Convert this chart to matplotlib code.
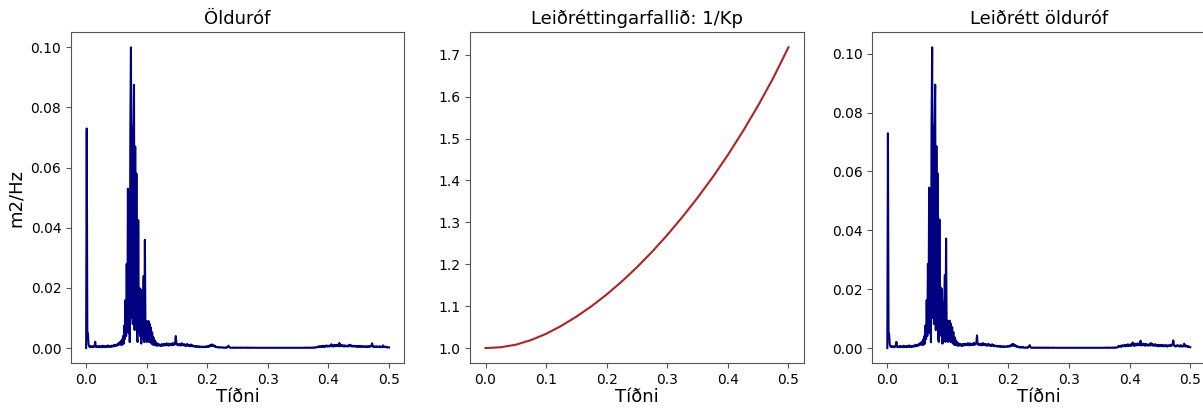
import matplotlib.pyplot as plt
import numpy as np

# Frequency grid (0 to 0.5, step 0.001)
freq = np.linspace(0, 0.5, 501)

# Near-zero band 0.240 - 0.379, same in both spectra
quiet_band = [
    0.0001, 0.0002, 0.0001, 0.0001, 0.0002, 0.0001, 0.0001, 0.0002, 0.0001, 0.0001,
    0.0001, 0.0002, 0.0001, 0.0001, 0.0001, 0.0002, 0.0001, 0.0001, 0.0002, 0.0001,
    0.0001, 0.0001, 0.0002, 0.0001, 0.0001, 0.0001, 0.0001, 0.0002, 0.0001, 0.0001,
    0.0001, 0.0001, 0.0001, 0.0002, 0.0001, 0.0001, 0.0001, 0.0001, 0.0001, 0.0001,
    0.0001, 0.0001, 0.0001, 0.0001, 0.0001, 0.0001, 0.0001, 0.0001, 0.0001, 0.0001,
    0.0001, 0.0001, 0.0001, 0.0001, 0.0001, 0.0001, 0.0001, 0.0001, 0.0001, 0.0001,
    0.0001, 0.0001, 0.0001, 0.0001, 0.0001, 0.0001, 0.0001, 0.0001, 0.0001, 0.0001,
    0.0001, 0.0001, 0.0001, 0.0001, 0.0001, 0.0001, 0.0001, 0.0001, 0.0001, 0.0001,
    0.0001, 0.0001, 0.0001, 0.0001, 0.0001, 0.0001, 0.0001, 0.0001, 0.0001, 0.0001,
    0.0001, 0.0001, 0.0001, 0.0001, 0.0001, 0.0001, 0.0001, 0.0001, 0.0001, 0.0001,
    0.0001, 0.0001, 0.0001, 0.0001, 0.0001, 0.0001, 0.0001, 0.0001, 0.0001, 0.0001,
    0.0001, 0.0001, 0.0001, 0.0001, 0.0001, 0.0001, 0.0001, 0.0001, 0.0001, 0.0001,
    0.0001, 0.0001, 0.0002, 0.0001, 0.0001, 0.0001, 0.0002, 0.0001, 0.0001, 0.0001,
    0.0001, 0.0002, 0.0001, 0.0001, 0.0002, 0.0001, 0.0002, 0.0001, 0.0002, 0.0002,
]

# Wave spectrum (m2/Hz), 0.000 - 0.239
spectrum_low = [
    0.0, 0.073, 0.0055, 0.0048, 0.0012, 0.0006, 0.0004, 0.0007, 0.0003, 0.0005,
    0.0004, 0.0006, 0.0003, 0.0005, 0.0008, 0.0021, 0.0004, 0.0006, 0.0003, 0.0005,
    0.0004, 0.0007, 0.0003, 0.0006, 0.0004, 0.0005, 0.0003, 0.0008, 0.0004, 0.0006,
    0.0005, 0.0003, 0.0007, 0.0004, 0.0006, 0.0005, 0.0009, 0.0004, 0.0006, 0.0005,
    0.0007, 0.0004, 0.0008, 0.0006, 0.0005, 0.0009, 0.0006, 0.0011, 0.0007, 0.0010,
    0.0008, 0.0012, 0.0009, 0.0015, 0.0011, 0.0018, 0.0013, 0.0022, 0.0010, 0.0028,
    0.0012, 0.0040, 0.0015, 0.0075, 0.0030, 0.0160, 0.0040, 0.0280, 0.0060, 0.0530,
    0.0050, 0.0520, 0.0020, 0.0730, 0.1000, 0.0100, 0.0735, 0.0080, 0.0730, 0.0875,
    0.0060, 0.0670, 0.0090, 0.0580, 0.0030, 0.0020, 0.0425, 0.0050, 0.0200, 0.0040,
    0.0195, 0.0015, 0.0150, 0.0030, 0.0155, 0.0240, 0.0020, 0.0360, 0.0030, 0.0090,
    0.0020, 0.0088, 0.0025, 0.0090, 0.0020, 0.0080, 0.0020, 0.0068, 0.0015, 0.0052,
    0.0012, 0.0036, 0.0010, 0.0026, 0.0010, 0.0020, 0.0008, 0.0016, 0.0008, 0.0013,
    0.0009, 0.0012, 0.0008, 0.0011, 0.0007, 0.0013, 0.0009, 0.0012, 0.0008, 0.0014,
    0.0010, 0.0013, 0.0009, 0.0016, 0.0011, 0.0012, 0.0008, 0.0015, 0.0010, 0.0013,
    0.0009, 0.0014, 0.0011, 0.0017, 0.0010, 0.0013, 0.0012, 0.0018, 0.0040, 0.0015,
    0.0011, 0.0013, 0.0009, 0.0012, 0.0010, 0.0014, 0.0008, 0.0011, 0.0016, 0.0010,
    0.0012, 0.0009, 0.0013, 0.0008, 0.0011, 0.0007, 0.0010, 0.0014, 0.0008, 0.0009,
    0.0007, 0.0010, 0.0006, 0.0012, 0.0008, 0.0007, 0.0009, 0.0005, 0.0007, 0.0006,
    0.0005, 0.0007, 0.0004, 0.0006, 0.0005, 0.0004, 0.0006, 0.0003, 0.0005, 0.0004,
    0.0003, 0.0005, 0.0004, 0.0003, 0.0005, 0.0004, 0.0003, 0.0004, 0.0006, 0.0004,
    0.0005, 0.0004, 0.0007, 0.0005, 0.0009, 0.0006, 0.0011, 0.0008, 0.0012, 0.0007,
    0.0009, 0.0006, 0.0008, 0.0004, 0.0005, 0.0003, 0.0004, 0.0003, 0.0002, 0.0003,
    0.0002, 0.0003, 0.0002, 0.0002, 0.0003, 0.0002, 0.0001, 0.0002, 0.0001, 0.0002,
    0.0001, 0.0002, 0.0001, 0.0003, 0.0005, 0.0008, 0.0004, 0.0002, 0.0001, 0.0001,
]
# Wave spectrum (m2/Hz), 0.380 - 0.500
spectrum_high = [
    0.0002, 0.0004, 0.0003, 0.0005, 0.0004, 0.0006, 0.0003, 0.0005, 0.0007, 0.0004,
    0.0006, 0.0005, 0.0008, 0.0004, 0.0007, 0.0005, 0.0006, 0.0009, 0.0005, 0.0007,
    0.0006, 0.0008, 0.0005, 0.0009, 0.0007, 0.0013, 0.0006, 0.0008, 0.0005, 0.0010,
    0.0007, 0.0009, 0.0006, 0.0011, 0.0008, 0.0007, 0.0010, 0.0006, 0.0017, 0.0008,
    0.0006, 0.0009, 0.0007, 0.0010, 0.0006, 0.0008, 0.0005, 0.0009, 0.0007, 0.0006,
    0.0008, 0.0005, 0.0007, 0.0009, 0.0006, 0.0011, 0.0008, 0.0006, 0.0009, 0.0005,
    0.0007, 0.0006, 0.0008, 0.0005, 0.0007, 0.0006, 0.0004, 0.0007, 0.0005, 0.0006,
    0.0004, 0.0006, 0.0005, 0.0007, 0.0004, 0.0006, 0.0005, 0.0004, 0.0006, 0.0005,
    0.0004, 0.0006, 0.0003, 0.0005, 0.0004, 0.0006, 0.0005, 0.0004, 0.0007, 0.0005,
    0.0006, 0.0009, 0.0016, 0.0006, 0.0004, 0.0005, 0.0003, 0.0005, 0.0004, 0.0006,
    0.0004, 0.0005, 0.0003, 0.0004, 0.0006, 0.0003, 0.0005, 0.0004, 0.0003, 0.0005,
    0.0009, 0.0004, 0.0003, 0.0005, 0.0004, 0.0003, 0.0004, 0.0002, 0.0003, 0.0002,
    0.0002,
]

# Corrected spectrum (m2/Hz), 0.000 - 0.239
corrected_low = [
    0.0, 0.073, 0.0055, 0.0048, 0.0012, 0.0006, 0.0004, 0.0007, 0.0003, 0.0005,
    0.0004, 0.0006, 0.0003, 0.0005, 0.0008, 0.0021, 0.0004, 0.0006, 0.0003, 0.0005,
    0.0004, 0.0007, 0.0003, 0.0006, 0.0004, 0.0005, 0.0003, 0.0008, 0.0004, 0.0006,
    0.0005, 0.0003, 0.0007, 0.0004, 0.0006, 0.0005, 0.0009, 0.0004, 0.0006, 0.0005,
    0.0007, 0.0004, 0.0008, 0.0006, 0.0005, 0.0009, 0.0006, 0.0011, 0.0007, 0.0010,
    0.0008, 0.0012, 0.0009, 0.0015, 0.0011, 0.0018, 0.0013, 0.0022, 0.0010, 0.0029,
    0.0012, 0.0041, 0.0015, 0.0077, 0.0031, 0.0163, 0.0041, 0.0286, 0.0061, 0.0545,
    0.0051, 0.0535, 0.0020, 0.0746, 0.1022, 0.0102, 0.0752, 0.0082, 0.0748, 0.0895,
    0.0061, 0.0686, 0.0092, 0.0594, 0.0031, 0.0021, 0.0437, 0.0051, 0.0206, 0.0041,
    0.0201, 0.0015, 0.0155, 0.0031, 0.0160, 0.0248, 0.0021, 0.0372, 0.0031, 0.0093,
    0.0021, 0.0091, 0.0026, 0.0093, 0.0021, 0.0083, 0.0021, 0.0071, 0.0016, 0.0054,
    0.0012, 0.0037, 0.0010, 0.0027, 0.0010, 0.0021, 0.0008, 0.0017, 0.0008, 0.0014,
    0.0010, 0.0013, 0.0008, 0.0012, 0.0007, 0.0014, 0.0010, 0.0013, 0.0009, 0.0015,
    0.0011, 0.0014, 0.0010, 0.0017, 0.0012, 0.0013, 0.0009, 0.0016, 0.0011, 0.0014,
    0.0010, 0.0015, 0.0012, 0.0018, 0.0011, 0.0014, 0.0013, 0.0019, 0.0043, 0.0016,
    0.0012, 0.0014, 0.0010, 0.0013, 0.0011, 0.0015, 0.0009, 0.0012, 0.0017, 0.0011,
    0.0013, 0.0010, 0.0014, 0.0009, 0.0012, 0.0008, 0.0011, 0.0015, 0.0009, 0.0010,
    0.0008, 0.0011, 0.0007, 0.0013, 0.0009, 0.0008, 0.0010, 0.0006, 0.0008, 0.0007,
    0.0006, 0.0008, 0.0005, 0.0007, 0.0006, 0.0005, 0.0007, 0.0004, 0.0006, 0.0005,
    0.0004, 0.0006, 0.0005, 0.0004, 0.0006, 0.0005, 0.0004, 0.0005, 0.0007, 0.0005,
    0.0006, 0.0005, 0.0008, 0.0006, 0.0010, 0.0007, 0.0013, 0.0009, 0.0014, 0.0008,
    0.0010, 0.0007, 0.0009, 0.0005, 0.0006, 0.0004, 0.0005, 0.0004, 0.0002, 0.0004,
    0.0002, 0.0004, 0.0002, 0.0002, 0.0004, 0.0002, 0.0001, 0.0002, 0.0001, 0.0002,
    0.0001, 0.0002, 0.0001, 0.0004, 0.0006, 0.0010, 0.0005, 0.0002, 0.0001, 0.0001,
]
# Corrected spectrum (m2/Hz), 0.380 - 0.500
corrected_high = [
    0.0003, 0.0006, 0.0004, 0.0007, 0.0006, 0.0008, 0.0004, 0.0007, 0.0010, 0.0006,
    0.0008, 0.0007, 0.0011, 0.0006, 0.0010, 0.0007, 0.0008, 0.0013, 0.0007, 0.0010,
    0.0009, 0.0012, 0.0007, 0.0013, 0.0010, 0.0019, 0.0009, 0.0012, 0.0007, 0.0015,
    0.0010, 0.0013, 0.0009, 0.0016, 0.0012, 0.0010, 0.0015, 0.0009, 0.0025, 0.0012,
    0.0009, 0.0013, 0.0010, 0.0015, 0.0009, 0.0012, 0.0008, 0.0014, 0.0011, 0.0009,
    0.0012, 0.0008, 0.0011, 0.0014, 0.0009, 0.0017, 0.0012, 0.0009, 0.0014, 0.0008,
    0.0011, 0.0009, 0.0013, 0.0008, 0.0011, 0.0010, 0.0006, 0.0011, 0.0008, 0.0010,
    0.0006, 0.0010, 0.0008, 0.0011, 0.0006, 0.0010, 0.0008, 0.0006, 0.0010, 0.0008,
    0.0007, 0.0010, 0.0005, 0.0008, 0.0007, 0.0010, 0.0008, 0.0007, 0.0011, 0.0008,
    0.0010, 0.0015, 0.0026, 0.0010, 0.0007, 0.0008, 0.0005, 0.0008, 0.0007, 0.0010,
    0.0007, 0.0008, 0.0005, 0.0007, 0.0010, 0.0005, 0.0008, 0.0007, 0.0005, 0.0008,
    0.0015, 0.0007, 0.0005, 0.0009, 0.0007, 0.0005, 0.0007, 0.0003, 0.0005, 0.0003,
    0.0003,
]

# Correction function 1/Kp
kp_freq = [0.0, 0.025, 0.05, 0.075, 0.1, 0.125, 0.15, 0.175, 0.2, 0.225, 0.25,
           0.275, 0.3, 0.325, 0.35, 0.375, 0.4, 0.425, 0.45, 0.475, 0.5]
inv_kp = [1.000, 1.002, 1.008, 1.019, 1.034, 1.053, 1.075, 1.100, 1.128, 1.159, 1.193,
          1.230, 1.270, 1.313, 1.359, 1.408, 1.461, 1.518, 1.579, 1.645, 1.718]

spectrum = spectrum_low + quiet_band + spectrum_high
corrected = corrected_low + quiet_band + corrected_high

fig = plt.figure(figsize=(12.03, 4.08), dpi=100)
ax1 = fig.add_axes([0.059, 0.110, 0.277, 0.811])
ax2 = fig.add_axes([0.391, 0.110, 0.277, 0.811])
ax3 = fig.add_axes([0.725, 0.110, 0.277, 0.811])

ax1.plot(freq, spectrum, color='navy', linewidth=1.5)
ax1.set_title('Ölduróf', fontsize=13)
ax1.set_ylabel('m2/Hz', fontsize=13)

ax2.plot(kp_freq, inv_kp, color='firebrick', linewidth=1.5)
ax2.set_title('Leiðréttingarfallið: 1/Kp', fontsize=13)

ax3.plot(freq, corrected, color='navy', linewidth=1.5)
ax3.set_title('Leiðrétt ölduróf', fontsize=13)

for ax in (ax1, ax2, ax3):
    ax.set_xlabel('Tíðni', fontsize=13, labelpad=1)
    ax.set_xticks([0.0, 0.1, 0.2, 0.3, 0.4, 0.5])
    ax.tick_params(labelsize=10, color='#555555')
    for spine in ax.spines.values():
        spine.set_edgecolor('#555555')

fig.savefig('out.png', dpi=100)
